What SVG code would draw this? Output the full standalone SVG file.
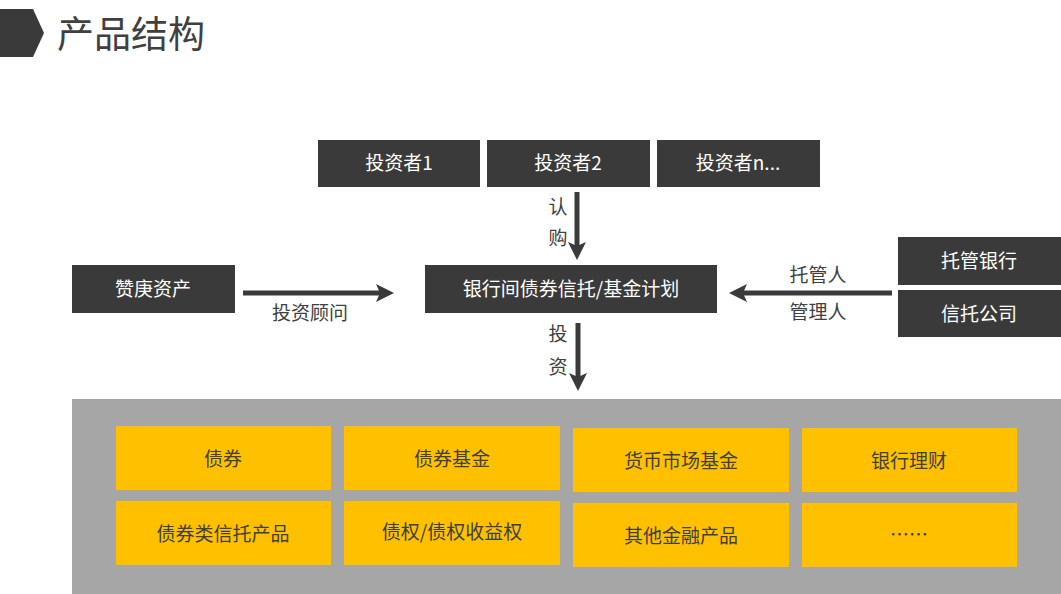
<svg xmlns="http://www.w3.org/2000/svg" width="1061" height="594" viewBox="0 0 1061 594">
<style>
text{font-family:"Microsoft YaHei","Noto Sans CJK SC","Noto Sans",sans-serif;text-anchor:middle;dominant-baseline:central}
.dark{fill:#3A3A3A}
.wt{fill:#FFFFFF;font-size:19px}
.yl{fill:#FFC000}
.yt{fill:#404040;font-size:19px}
.lb{fill:#404040;font-size:19px}
.ar{stroke:#3A3A3A;stroke-width:5;fill:none}
</style>
<defs>
<marker id="ah" viewBox="0 0 18 18" refX="4" refY="9" markerWidth="18" markerHeight="18" markerUnits="userSpaceOnUse" orient="auto">
<path d="M0,0 L18,9 L0,18 L4,9 Z" fill="#3A3A3A"/>
</marker>
</defs>
<rect width="1061" height="594" fill="#FFFFFF"/>
<g id="header">
<polygon points="0,9 33,9 44,33 33,57 0,57" fill="#3A3A3A"/>
<text x="131" y="32" style="font-size:37px;fill:#404040">产品结构</text>
</g>
<g id="pool">
<rect x="72" y="399" width="989" height="195" fill="#A6A6A6"/>
</g>
<g id="investor1"><rect class="dark" x="318" y="140" width="162" height="47"/><text class="wt" x="399" y="161">投资者1</text></g>
<g id="investor2"><rect class="dark" x="487" y="140" width="163" height="47"/><text class="wt" x="568" y="161">投资者2</text></g>
<g id="investorn"><rect class="dark" x="657" y="140" width="163" height="47"/><text class="wt" x="738" y="161">投资者n...</text></g>
<g id="plan"><rect class="dark" x="425" y="265" width="292" height="48"/><text class="wt" x="571" y="287">银行间债券信托/基金计划</text></g>
<g id="advisor"><rect class="dark" x="72" y="265" width="163" height="48"/><text class="wt" x="153" y="287">赞庚资产</text></g>
<g id="custodian"><rect class="dark" x="898" y="237" width="163" height="48"/><text class="wt" x="979" y="259">托管银行</text></g>
<g id="trust"><rect class="dark" x="898" y="290" width="163" height="47"/><text class="wt" x="979" y="312">信托公司</text></g>
<g id="connectors">
<line class="ar" x1="577" y1="192" x2="577" y2="246" marker-end="url(#ah)"/>
<line class="ar" x1="578" y1="323" x2="578" y2="377" marker-end="url(#ah)"/>
<line class="ar" x1="243" y1="293" x2="380" y2="293" marker-end="url(#ah)"/>
<line class="ar" x1="892" y1="293" x2="743" y2="293" marker-end="url(#ah)"/>
<text class="lb" x="558" y="205">认</text>
<text class="lb" x="558" y="236">购</text>
<text class="lb" x="558" y="332">投</text>
<text class="lb" x="558" y="365">资</text>
<text class="lb" x="310" y="311">投资顾问</text>
<text class="lb" x="818" y="273">托管人</text>
<text class="lb" x="818" y="310">管理人</text>
</g>
<g id="bond"><rect class="yl" x="116" y="426" width="215" height="64"/><text class="yt" x="223" y="457">债券</text></g>
<g id="bondfund"><rect class="yl" x="344" y="426" width="216" height="64"/><text class="yt" x="452" y="457">债券基金</text></g>
<g id="mmf"><rect class="yl" x="573" y="428" width="216" height="64"/><text class="yt" x="681" y="459">货币市场基金</text></g>
<g id="wmp"><rect class="yl" x="802" y="428" width="215" height="64"/><text class="yt" x="909" y="459">银行理财</text></g>
<g id="bondtrust"><rect class="yl" x="116" y="501" width="215" height="64"/><text class="yt" x="223" y="532">债券类信托产品</text></g>
<g id="claims"><rect class="yl" x="344" y="501" width="216" height="64"/><text class="yt" x="452" y="530">债权/债权收益权</text></g>
<g id="other"><rect class="yl" x="573" y="503" width="216" height="64"/><text class="yt" x="681" y="534">其他金融产品</text></g>
<g id="more"><rect class="yl" x="802" y="503" width="215" height="64"/><text class="yt" x="909" y="533">……</text></g>
</svg>
